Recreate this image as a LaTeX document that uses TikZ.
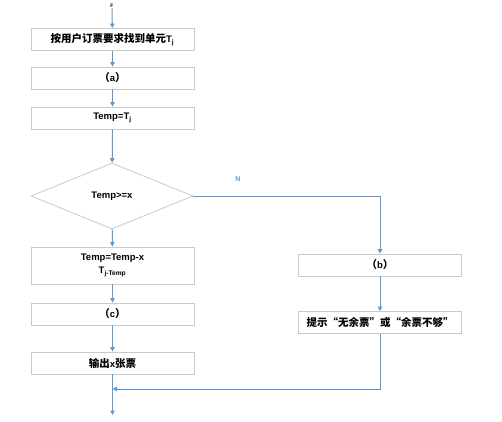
\documentclass[tikz,border=0pt]{standalone}
\usepackage{fontspec}
\setmainfont{Liberation Sans}
\newfontfamily\cjk{Noto Sans CJK SC}
\usepackage{tikz}
\usetikzlibrary{arrows.meta,positioning,shapes.geometric}
\definecolor{lineblue}{HTML}{5B9BD5}
\definecolor{boxgray}{HTML}{CACACA}
\newcommand{\zh}[1]{{\cjk\fontsize{10.5}{12}\selectfont #1}}
\tikzset{
  >={Triangle[length=4.5pt,width=4.5pt]},
  box/.style={draw=boxgray, fill=white, line width=0.8pt, minimum width=163pt,
    minimum height=22pt, inner sep=1pt, align=center,
    font=\bfseries\fontsize{9.5}{13}\selectfont},
  cond/.style={diamond, draw=boxgray, fill=white, line width=0.8pt,
    minimum width=162pt, minimum height=66pt, inner sep=0pt,
    font=\bfseries\fontsize{9.5}{10}\selectfont},
  flow/.style={draw=lineblue, line width=1pt, ->},
}

\begin{document}
\begin{tikzpicture}[x=1pt, y=-1pt]
\useasboundingbox (0,0) rectangle (502,421);

% Hauptzweig (links)
\node[font=\bfseries\fontsize{5}{6}\selectfont, inner sep=0.5pt] (start) at (112,6) {F};
\node[box] (find) at (112.5,39.5) {\zh{按用户订票要求找到单元}T\textsubscript{j}};
\node[box] (a) at (112.5,78) {\zh{（}a\zh{）}};
\node[box] (temp) at (112.5,118) {Temp=T\textsubscript{j}};
\node[cond] (test) at (112,196) {Temp>=x};
\node[box, minimum height=37pt] (sub) at (112.5,265.5) {Temp=Temp-x\\T\textsubscript{j-Temp}};
\node[box] (c) at (112.5,314) {\zh{（}c\zh{）}};
\node[box] (out) at (112.5,363) {\zh{输出}x\zh{张票}};
\coordinate (merge) at (112.5,389);
\coordinate (stop) at (112.5,415);

% Nein-Zweig (rechts)
\node[box] (b) at (380,265) {\zh{（}b\zh{）}};
\node[box] (hint) at (380,322.5) {\zh{提示“无余票”或“余票不够”}};
\node[text=lineblue, font=\bfseries\fontsize{7}{8}\selectfont] (no) at (238,179) {N};

% Verbindungen
\draw[flow] (start) -- (find);
\draw[flow] (find) -- (a);
\draw[flow] (a) -- (temp);
\draw[flow] (temp) -- (test);
\draw[flow] (test) -- (sub);
\draw[flow] (sub) -- (c);
\draw[flow] (c) -- (out);
\draw[flow] (out) -- (stop);
\draw[flow] (test.east) -| (b.north);
\draw[flow] (b) -- (hint);
\draw[flow] (hint.south) |- (merge);

\end{tikzpicture}
\end{document}
